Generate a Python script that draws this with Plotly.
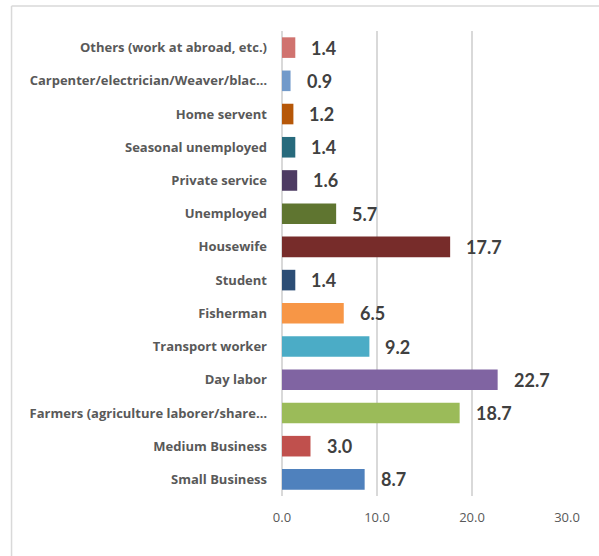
import plotly.graph_objects as go

# Occupation categories (bottom to top) and their shares in percent
categories = [
    "Small Business",
    "Medium Business",
    "Farmers (agriculture laborer/share…",
    "Day labor",
    "Transport worker",
    "Fisherman",
    "Student",
    "Housewife",
    "Unemployed",
    "Private service",
    "Seasonal unemployed",
    "Home servent",
    "Carpenter/electrician/Weaver/blac…",
    "Others (work at abroad, etc.)",
]
values = [8.7, 3.0, 18.7, 22.7, 9.2, 6.5, 1.4, 17.7, 5.7, 1.6, 1.4, 1.2, 0.9, 1.4]
colors = [
    "#4F81BD", "#C0504D", "#9BBB59", "#8064A2", "#4BACC6", "#F79646", "#2C4D75",
    "#772C2A", "#5F7530", "#4D3B62", "#276A7C", "#B65708", "#729ACA", "#D0736F",
]
x_ticks = [0, 10, 20, 30]

fig = go.Figure(
    go.Bar(
        x=values,
        y=categories,
        orientation="h",
        marker=dict(color=colors, line=dict(width=0)),
        width=0.62,
        hoverinfo="x+y",
    )
)

# Value labels just beyond the end of each bar
for cat, val in zip(categories, values):
    fig.add_annotation(
        x=val, y=cat, text=f"<b>{val:.1f}</b>", showarrow=False,
        xanchor="left", yanchor="middle", xshift=14,
        font=dict(family="Lato, Carlito, Calibri, sans-serif", size=18, color="#404040"),
    )

# Light frame along the top and left edges of the chart area
frame = dict(type="line", xref="paper", yref="paper",
             line=dict(color="#D9D9D9", width=1.5), layer="below")
fig.add_shape(x0=-0.949, x1=1.2, y0=1.0538, y1=1.0538, **frame)
fig.add_shape(x0=-0.949, x1=-0.949, y0=1.0538, y1=-0.3, **frame)

fig.update_layout(
    width=599, height=556,
    margin=dict(l=281.5, r=31.5, t=31, b=60),
    paper_bgcolor="white", plot_bgcolor="white",
    showlegend=False, bargap=0.38,
    font=dict(family="Lato, Carlito, Calibri, sans-serif"),
)
fig.update_xaxes(
    range=[0, 30], tickvals=x_ticks, ticktext=[f"{t:.1f}" for t in x_ticks],
    showgrid=True, gridcolor="#D9D9D9", gridwidth=1.5,
    zeroline=True, zerolinecolor="#D9D9D9", zerolinewidth=1.5,
    showline=False, ticks="", ticklabelstandoff=12,
    tickfont=dict(family="Open Sans, sans-serif", size=13, color="#595959"),
    fixedrange=True,
)
fig.update_yaxes(
    categoryorder="array", categoryarray=categories,
    showgrid=False, zeroline=False, showline=False, ticks="",
    ticklabelstandoff=14,
    tickfont=dict(family="Open Sans, sans-serif", size=13, color="#595959", weight="bold"),
    fixedrange=True,
)

fig.write_html("out.html")
